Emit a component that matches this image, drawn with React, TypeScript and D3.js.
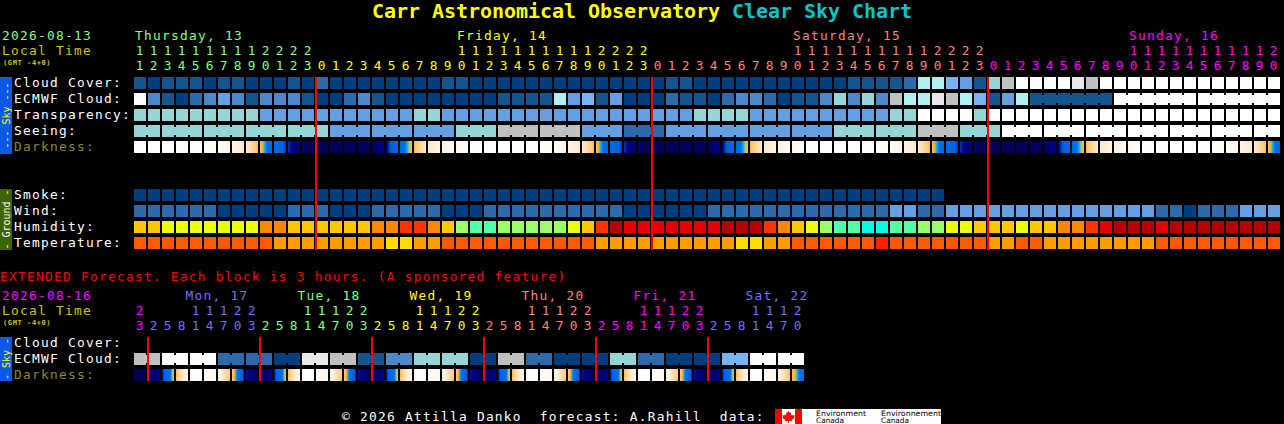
import React from "react";
import * as d3 from "d3";

const titleParts = [
  ["Carr Astronomical Observatory ", "#ffff00"],
  ["Clear Sky Chart", "#00c8c8"],
];
const mainHours = [11,12,13,14,15,16,17,18,19,20,21,22,23,0,1,2,3,4,5,6,7,8,9,10,11,12,13,14,15,16,17,18,19,20,21,22,23,0,1,2,3,4,5,6,7,8,9,10,11,12,13,14,15,16,17,18,19,20,21,22,23,0,1,2,3,4,5,6,7,8,9,10,11,12,13,14,15,16,17,18,19,20];
const mainDays = ["Thursday, 13", "Friday, 14", "Saturday, 15", "Sunday, 16"];
const extHours = [23,2,5,8,11,14,17,20,23,2,5,8,11,14,17,20,23,2,5,8,11,14,17,20,23,2,5,8,11,14,17,20,23,2,5,8,11,14,17,20,23,2,5,8,11,14,17,20];
const extDays = ["Mon, 17", "Tue, 18", "Wed, 19", "Thu, 20", "Fri, 21", "Sat, 22"];

// level 0 (clear) .. 10 (overcast / poor)
const cloudCover = [1,0,1,1,1,0,1,1,0,0,0,1,0,2,0,0,0,0,0,0,0,0,1,1,0,0,0,0,0,0,0,0,0,0,0,0,0,0,1,1,0,0,0,0,0,0,0,0,0,0,0,1,1,1,1,2,6,6,5,4,1,7,8,10,10,10,10,9,8,10,10,10,10,10,10,10,10,10,10,10,10,10];
const ecmwfCloud = [10,3,1,0,2,3,4,3,1,3,3,3,1,0,0,2,3,1,0,0,0,0,0,0,0,0,1,1,1,1,6,4,5,1,4,0,0,0,2,1,1,0,2,3,3,2,0,1,1,3,7,3,7,3,8,6,6,9,8,6,5,1,4,6,1,1,1,1,1,1,10,10,10,10,10,10,10,10,10,10,10,10];
const ecmwfLinkedRuns = [[64,69],[70,75],[76,81]];
const transparency = [7,7,7,7,7,7,7,7,7,4,4,4,4,4,4,4,4,4,4,4,7,7,4,4,4,4,4,4,4,4,4,4,4,4,4,4,4,4,4,4,7,7,7,7,4,4,4,4,4,4,4,4,4,4,7,7,10,10,10,10,7,10,10,10,10,10,10,10,10,10,10,10,10,10,10,10,10,10,10,10,10,10];
const seeingBlockLengths = [2,3,3,3,3,3,3,3,3,3,3,3,3,3,3,3,3,3,3,3,3,3,3,3,3,3,3,2];
const seeingBlockValues = [7,7,7,7,7,4,4,4,7,8,8,4,2,4,4,4,4,7,7,8,7,10,10,10,10,10,10,10];
// darkness magnitude at the edges of each hour block
const darkness = [0,0,0,0,0,0,.3,.9,1.6,3.3,4.4,5.2,5.8,6,6,6,6,5.9,5.45,4.4,3.3,1.7,1,.6,.2,0,0,0,0,0,.3,.9,1.6,3.3,4.4,5.2,5.8,6,6,6,6,5.9,5.45,4.4,3.3,1.7,1,.6,.2,0,0,0,0,0,.3,.9,1.6,3.3,4.4,5.2,5.8,6,6,6,6,5.9,5.45,4.4,3.3,1.7,1,.6,.2,0,0,0,0,0,.3,.9,1.6,3.3,4.4];
const smoke = Array.from("0000000000000000000000000000000000000000000000000000000000", Number);
const wind = [8,8,8,8,8,8,3,3,3,3,3,8,8,8,3,3,3,8,8,8,8,8,3,3,3,8,8,8,8,8,8,8,8,8,8,3,3,3,3,3,3,8,8,8,8,8,8,8,8,8,8,8,8,8,14,14,8,8,14,14,14,14,14,14,14,14,14,14,14,14,14,14,14,8,8,3,8,8,8,14,14,14];
const humidity = [50,50,45,45,45,45,45,45,45,60,60,50,50,50,50,50,50,60,60,70,70,60,50,40,35,35,40,40,40,40,40,45,50,70,90,80,80,80,80,80,80,80,90,90,90,70,60,50,45,40,35,35,30,30,35,35,40,40,45,45,50,50,50,45,50,50,60,60,70,80,90,90,90,80,90,90,90,90,90,90,90,90];
const temperature = [25,25,25,25,25,25,25,25,25,25,20,20,20,20,20,20,20,20,15,15,20,20,25,25,25,25,25,25,25,25,25,25,25,20,20,20,20,20,20,20,20,20,20,15,15,20,20,25,25,25,25,25,25,30,25,25,25,25,25,25,25,20,20,25,25,20,20,20,20,20,20,20,20,25,25,25,25,25,25,25,25,25];

const extEcmwf = [8,10,10,2,2,0,9,8,1,3,7,7,0,8,2,0,0,7,2,0,0,5,10,10];
const extDarkness = [6,6,5.4,3.3,.4,0,.8,3,5.3,6,5.4,3.3,.4,0,.8,3,5.3,6,5.4,3.3,.4,0,.8,3,5.3,6,5.4,3.3,.4,0,.8,3,5.3,6,5.4,3.3,.4,0,.8,3,5.3,6,5.4,3.3,.4,0,.8,3.2,4.4];

const cloudLevels = d3.range(0, 11);
const cloudColors = ["#003f7f","#13558f","#2c6aab","#4c88ca","#639fe1","#76b4f5","#b0f0f0","#95d5d5","#c0c0c0","#e8e8e8","#ffffff"];
const cloudScale = d3.scaleOrdinal<number, string>().domain(cloudLevels).range(cloudColors);
const windScale = d3.scaleOrdinal<number, string>().domain([3, 8, 14]).range(["#003f7f", "#2c6aab", "#639fe1"]);
const humidityScale = d3.scaleOrdinal<number, string>()
  .domain([30,35,40,45,50,60,70,80,90])
  .range(["#00ffe0","#55ffaa","#99ff66","#e8ff10","#ffc800","#ff8800","#ff3300","#e40000","#b80000"]);
const tempScale = d3.scaleOrdinal<number, string>()
  .domain([15,20,25,30]).range(["#ffdc00","#ff9d00","#ff5a00","#ff2000"]);
const darkScale = d3.scaleLinear<string>()
  .domain([0, 1, 2, 3, 3.5, 3.62, 3.78, 3.95, 5.0, 5.15, 5.4, 6])
  .range(["#ffffff","#fff3e2","#ffe2b8","#ffc878","#ffae30","#60c0a0","#00a8f0","#0070e8","#0062e0","#0040b8","#000088","#000058"])
  .clamp(true);

const FONT = "'DejaVu Sans Mono', monospace";
const TEXT_SIZE = 12.85;
const CELL = 12;
const mainX = d3.scaleLinear().domain([0, 1]).range([134, 148]);
const rowY = d3.scaleLinear().domain([0, 1]).range([77, 93]);
const groundY = d3.scaleLinear().domain([0, 1]).range([189, 205]);
const extY = d3.scaleLinear().domain([0, 1]).range([337, 353]);

const dayPalette = ["#80ff80", "#ffff00", "#ff8080", "#ff00ff", "#7070ff"];
const extPalette = ["#ff00ff", "#7070ff", "#80ff80", "#ffff00", "#ff8080", "#ff00ff", "#7070ff"];

const txt = (x: number, y: number, s: string, fill: string, extra: any = {}) => (
  <text key={`${x}-${y}-${s}`} x={x} y={y} fill={fill} fontSize={TEXT_SIZE} letterSpacing={1.26} fontFamily={FONT} xmlSpace="preserve" {...extra}>{s}</text>
);

const gmt = (y: number) =>
  txt(3, y, "(GMT -4+0)", "#c8c800", { fontSize: 7, letterSpacing: 0.6, fontWeight: "bold" });

function Row({ y, values, color }: { y: number; values: number[]; color: (v: number) => string }) {
  return <g>{values.map((v, i) => <rect key={i} x={mainX(i)} y={y} width={CELL} height={CELL} fill={color(v)} />)}</g>;
}

function Links({ y, runs, color }: { y: number; runs: { from: number; to: number; v: number }[]; color: (v: number) => string }) {
  const out: React.ReactNode[] = [];
  runs.forEach((r, k) => {
    for (let i = r.from; i < r.to; i++) {
      out.push(<rect key={`${k}-${i}`} x={mainX(i) + CELL} y={y + 2} width={2} height={8} fill={color(r.v)} />);
    }
  });
  return <g>{out}</g>;
}

function Dark({ y, edges }: { y: number; edges: number[] }) {
  const out: React.ReactNode[] = [];
  d3.range(edges.length - 1).forEach((i) => {
    const t = d3.scaleLinear().domain([0, CELL]).range([edges[i], edges[i + 1]]);
    d3.range(CELL).forEach((p) => {
      out.push(<rect key={`${i}-${p}`} x={mainX(i) + p} y={y} width={1.02} height={CELL} fill={darkScale(t(p + 0.5))} />);
    });
  });
  return <g shapeRendering="crispEdges">{out}</g>;
}

function SideBar({ y0, y1, fill, label, color }: { y0: number; y1: number; fill: string; label: string; color: string }) {
  const cy = (y0 + y1) / 2;
  return (
    <g>
      <rect x={0} y={y0} width={12} height={y1 - y0} fill={fill} />
      <text x={9.5} y={cy} fill={color} fontSize={10} fontFamily={FONT} textAnchor="middle" xmlSpace="preserve" transform={`rotate(-90 9.5 ${cy})`}>{label}</text>
    </g>
  );
}

function HourLabels({ hours, yTens, yOnes, colorAt }: { hours: number[]; yTens: number; yOnes: number; colorAt: (i: number) => string }) {
  return (
    <g fontFamily={FONT} fontSize={TEXT_SIZE} textAnchor="middle">
      {hours.map((h, i) => (
        <g key={i} fill={colorAt(i)}>
          {h >= 10 && <text x={mainX(i) + 5.5} y={yTens}>{Math.floor(h / 10)}</text>}
          <text x={mainX(i) + 5.5} y={yOnes}>{h % 10}</text>
        </g>
      ))}
    </g>
  );
}

export default function App() {
  document.body.style.margin = "0";
  document.body.style.background = "#000";

  let mainDay = 0;
  const mainDayOf = mainHours.map((h, i) => {
    if (i > 0 && h === 0) mainDay += 1;
    return mainDay;
  });
  let extDay = 0;
  const extDayOf = extHours.map((h, i) => {
    if (i > 0 && h < extHours[i - 1]) extDay += 1;
    return extDay;
  });
  const dayStarts = mainDays.map((_, d) =>
    mainHours.findIndex((h, i) => mainDayOf[i] === d && h >= 10)
  );

  const seeingValues: number[] = [];
  const seeingRuns: { from: number; to: number; v: number }[] = [];
  seeingBlockLengths.forEach((len, k) => {
    seeingRuns.push({ from: seeingValues.length, to: seeingValues.length + len - 1, v: seeingBlockValues[k] });
    for (let i = 0; i < len; i++) seeingValues.push(seeingBlockValues[k]);
  });

  const ecmwfRuns = ecmwfLinkedRuns.map(([from, to]) => ({ from, to, v: ecmwfCloud[from] }));

  const extValues = extEcmwf.flatMap((v) => [v, v]);
  const extRuns = extEcmwf.map((v, k) => ({ from: k * 2, to: k * 2 + 1, v }));

  const midnights = mainHours.flatMap((h, i) => (h === 0 ? [i] : []));
  const extMidnights = extHours.flatMap((h, i) => (i > 0 && h < extHours[i - 1] ? [i] : []));

  const labels = ["Cloud Cover:", "ECMWF Cloud:", "Transparency:", "Seeing:"];
  const groundLabels = ["Smoke:", "Wind:", "Humidity:", "Temperature:"];

  return (
    <svg width={1284} height={424} style={{ position: "absolute", left: 0, top: 0, background: "#000" }}>
      <text x={372} y={18} fontSize={20} letterSpacing={-0.04} fontWeight="bold" fontFamily={FONT} xmlSpace="preserve">
        {titleParts.map(([s, c]) => <tspan key={s} fill={c}>{s}</tspan>)}
      </text>

      {txt(2, 40, "2026-08-13", dayPalette[0])}
      {txt(2, 55, "Local Time", "#c8c800")}
      {gmt(65)}
      {mainDays.map((d, k) => txt(mainX(dayStarts[k]) + 1, 40, d, dayPalette[k]))}
      <HourLabels hours={mainHours} yTens={55} yOnes={70} colorAt={(i) => dayPalette[mainDayOf[i]]} />

      <SideBar y0={77} y1={154} fill="#0a5ae6" label="--- Sky ---" color="#ffff00" />
      {labels.map((l, k) => txt(14, rowY(k) + 10, l, "#ffffff"))}
      {txt(14, rowY(4) + 10, "Darkness:", "#8a8a30")}
      <Row y={rowY(0)} values={cloudCover} color={cloudScale} />
      <Row y={rowY(1)} values={ecmwfCloud} color={cloudScale} />
      <Links y={rowY(1)} runs={ecmwfRuns} color={cloudScale} />
      <Row y={rowY(2)} values={transparency} color={cloudScale} />
      <Row y={rowY(3)} values={seeingValues} color={cloudScale} />
      <Links y={rowY(3)} runs={seeingRuns} color={cloudScale} />
      <Dark y={rowY(4)} edges={darkness} />

      <SideBar y0={189} y1={250} fill="#3c6400" label="- Ground -" color="#ffffff" />
      {groundLabels.map((l, k) => txt(14, groundY(k) + 10, l, "#ffffff"))}
      <Row y={groundY(0)} values={smoke} color={cloudScale} />
      <Row y={groundY(1)} values={wind} color={windScale} />
      <Row y={groundY(2)} values={humidity} color={humidityScale} />
      <Row y={groundY(3)} values={temperature} color={tempScale} />

      {midnights.map((i) => (
        <rect key={i} x={mainX(i) - 1} y={77} width={2} height={173} fill="#ff0000" />
      ))}

      {txt(0, 281, "EXTENDED Forecast. Each block is 3 hours. (A sponsored feature)", "#ff0000")}
      {txt(2, 300, "2026-08-16", "#ff00ff")}
      {txt(2, 315, "Local Time", "#c8c800")}
      {gmt(325)}
      {extDays.map((d, k) => txt(mainX(extMidnights[k] + 3) - 4.5, 300, d, extPalette[k + 1]))}
      <HourLabels hours={extHours} yTens={315} yOnes={330} colorAt={(i) => extPalette[extDayOf[i]]} />

      <SideBar y0={337} y1={381} fill="#0a5ae6" label="- Sky -" color="#ffff00" />
      {txt(14, extY(0) + 10, "Cloud Cover:", "#ffffff")}
      {txt(14, extY(1) + 10, "ECMWF Cloud:", "#ffffff")}
      {txt(14, extY(2) + 10, "Darkness:", "#8a8a30")}
      <Row y={extY(1)} values={extValues} color={cloudScale} />
      <Links y={extY(1)} runs={extRuns} color={cloudScale} />
      <Dark y={extY(2)} edges={extDarkness} />
      {extMidnights.map((i) => (
        <rect key={i} x={mainX(i) - 1} y={337} width={2} height={44} fill="#ff0000" />
      ))}

      {txt(342, 421, "© 2026 Attilla Danko  forecast: A.Rahill  data:", "#ffffff")}
      <rect x={775} y={409} width={166} height={15} fill="#ffffff" />
      <rect x={775} y={409} width={7} height={15} fill="#ff0000" />
      <rect x={795} y={409} width={7} height={15} fill="#ff0000" />
      <path d="M788.5 411l1.5 2 1-.5-.3 3 1.6-1 .4 1 2-.3-.7 2 .7.5-3 2.4.3 1.2-3-.3v2h-1v-2l-3 .3.3-1.2-3-2.4.7-.5-.7-2 2 .3.4-1 1.6 1-.3-3 1 .5z" fill="#ff0000" />
      {[["Environment", 816, 50], ["Environnement", 881, 60]].map(([s, x, w]) => (
        <g key={s as string} fill="#000" fontSize={7.5} fontFamily="'DejaVu Sans', sans-serif">
          <text x={x as number} y={416} textLength={w as number} lengthAdjust="spacingAndGlyphs">{s as string}</text>
          <text x={x as number} y={423} textLength={28} lengthAdjust="spacingAndGlyphs">Canada</text>
        </g>
      ))}
    </svg>
  );
}
